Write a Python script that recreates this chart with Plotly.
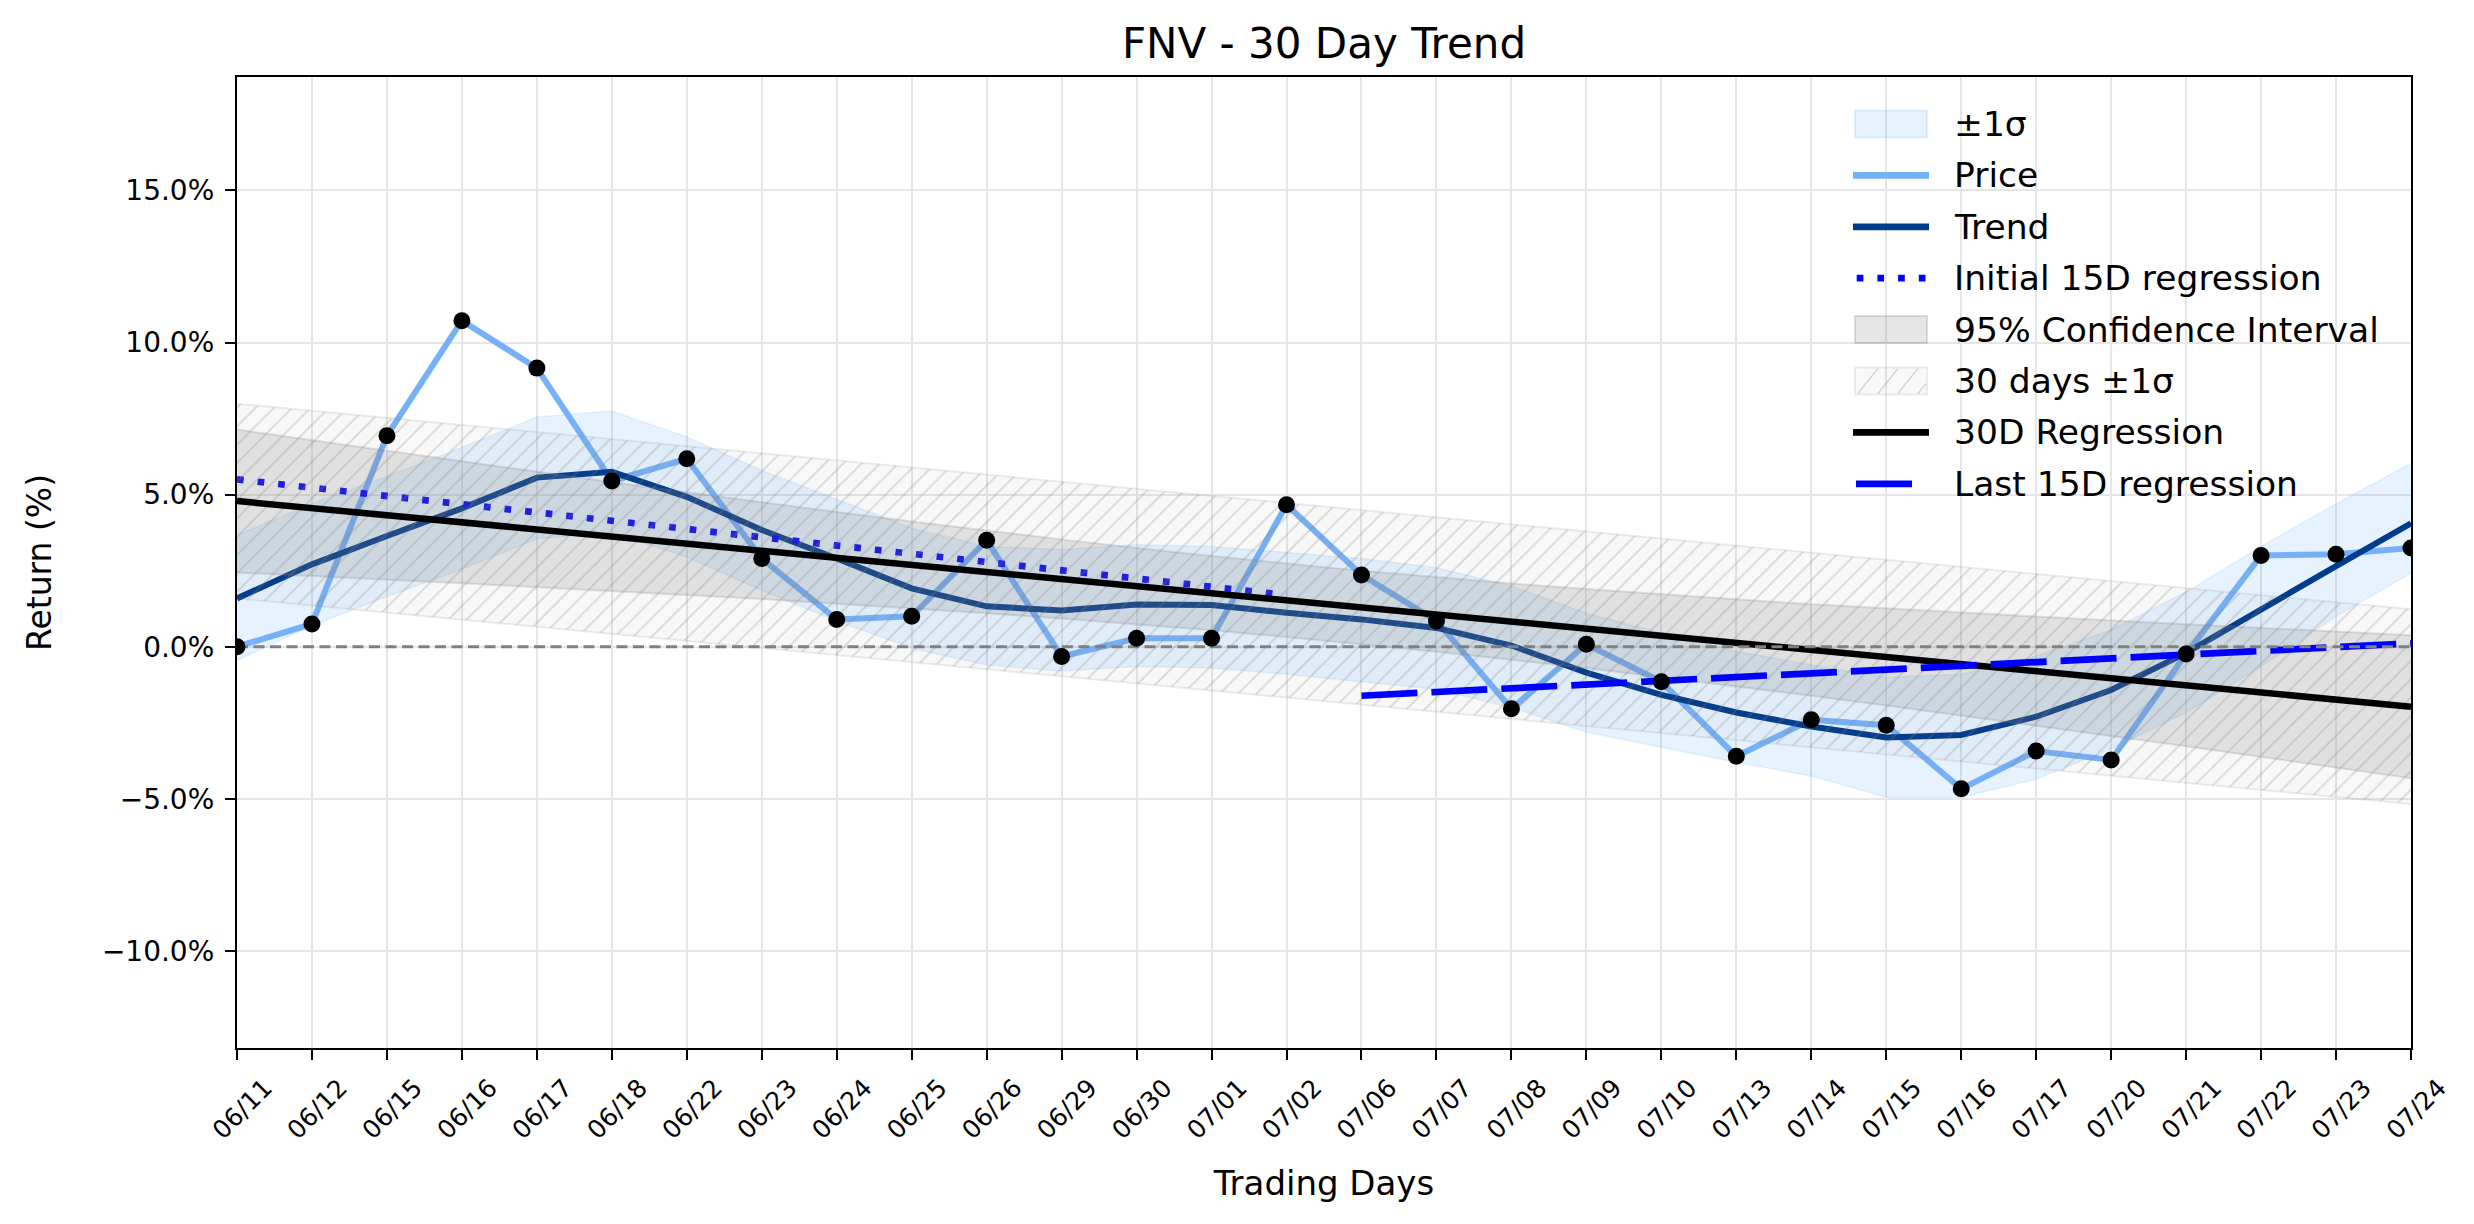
import plotly.graph_objects as go

# ---------------- data ----------------
dates = ['06/11', '06/12', '06/15', '06/16', '06/17', '06/18', '06/22', '06/23', '06/24', '06/25',
         '06/26', '06/29', '06/30', '07/01', '07/02', '07/06', '07/07', '07/08', '07/09', '07/10',
         '07/13', '07/14', '07/15', '07/16', '07/17', '07/20', '07/21', '07/22', '07/23', '07/24']

price = [0.00, 0.75, 6.94, 10.72, 9.16, 5.45, 6.18, 2.90, 0.90, 1.00,
         3.50, -0.32, 0.28, 0.28, 4.67, 2.36, 0.85, -2.04, 0.08, -1.15,
         -3.60, -2.40, -2.58, -4.67, -3.43, -3.72, -0.24, 3.00, 3.04, 3.25]

trend = [1.59, 2.71, 3.64, 4.55, 5.56, 5.75, 4.93, 3.84, 2.90, 1.92,
         1.33, 1.19, 1.39, 1.37, 1.12, 0.90, 0.62, 0.04, -0.85, -1.58,
         -2.16, -2.62, -2.98, -2.90, -2.30, -1.42, -0.20, 1.25, 2.65, 4.06]

sigma_upper = [3.67, 4.70, 5.60, 6.55, 7.55, 7.75, 6.90, 5.80, 4.85, 3.90,
               3.30, 3.20, 3.35, 3.30, 3.10, 2.90, 2.60, 2.00, 1.10, 0.45,
               -0.15, -0.60, -1.00, -0.90, -0.30, 0.55, 1.80, 3.30, 4.70, 6.03]
sigma_lower = [-0.45, 0.70, 1.65, 2.55, 3.55, 3.75, 2.95, 1.85, 0.85, -0.05,
               -0.60, -0.80, -0.65, -0.70, -0.90, -1.15, -1.40, -2.00, -2.80, -3.30,
               -3.80, -4.25, -4.95, -4.95, -4.35, -3.36, -2.16, -0.65, 1.00, 2.42]

ci_upper = [7.14, 6.79, 6.44, 6.09, 5.75, 5.41, 5.08, 4.75, 4.43, 4.12,
            3.82, 3.53, 3.25, 2.98, 2.74, 2.50, 2.29, 2.08, 1.90, 1.72,
            1.56, 1.40, 1.26, 1.12, 0.99, 0.86, 0.74, 0.62, 0.50, 0.38]
ci_lower = [2.44, 2.33, 2.21, 2.09, 1.96, 1.84, 1.70, 1.57, 1.42, 1.27,
            1.10, 0.93, 0.74, 0.54, 0.32, 0.09, -0.16, -0.43, -0.70, -1.00,
            -1.30, -1.61, -1.93, -2.26, -2.59, -2.93, -3.27, -3.62, -3.97, -4.32]

reg30_y = [4.79, -1.97]          # 30D regression, 06/11 -> 07/24
band30_upper = [7.99, 1.23]      # 30 days +1 sigma
band30_lower = [1.59, -5.17]     # 30 days -1 sigma
init15_y = [5.50, 1.70]          # initial 15D regression, 06/11 -> 07/02
last15_y = [-1.61, 0.11]         # last 15D regression, 07/06 -> 07/24

y_tickvals = [-10, -5, 0, 5, 10, 15]
y_ticktext = ['\u221210.0%', '\u22125.0%', '0.0%', '5.0%', '10.0%', '15.0%']

legend_labels = ['\u00b11\u03c3', 'Price', 'Trend', 'Initial 15D regression',
                 '95% Confidence Interval', '30 days \u00b11\u03c3', '30D Regression',
                 'Last 15D regression']

# ---------------- styles ----------------
FONT = 'DejaVu Sans'
C_PRICE = '#76b1f8'
C_TREND = '#003b8c'
C_BLUE = '#0000ff'
C_SIG_FILL = 'rgba(30,144,255,0.11)'
C_SIG_EDGE = 'rgba(30,144,255,0.10)'
C_CI_FILL = 'rgba(128,128,128,0.20)'
C_CI_EDGE = 'rgba(128,128,128,0.22)'
C_H_FILL = 'rgba(128,128,128,0.05)'
C_H_EDGE = 'rgba(128,128,128,0.14)'

W, H = 2474, 1224
PL, PR, PT, PB = 237, 2411, 77, 1048

def xp(px):
    return (px - PL) / (PR - PL)

def yp(py):
    return (PB - py) / (PB - PT)

first, last = dates[0], dates[-1]
fig = go.Figure()

# +-1 sigma band around trend
fig.add_trace(go.Scatter(x=dates, y=sigma_upper, mode='lines',
                         line=dict(color=C_SIG_EDGE, width=1.5), hoverinfo='skip', showlegend=False))
fig.add_trace(go.Scatter(x=dates, y=sigma_lower, mode='lines', fill='tonexty',
                         fillcolor=C_SIG_FILL, line=dict(color=C_SIG_EDGE, width=1.5),
                         hoverinfo='skip', showlegend=False))
# price line
fig.add_trace(go.Scatter(x=dates, y=price, mode='lines', line=dict(color=C_PRICE, width=6),
                         name='Price', showlegend=False))
# trend
fig.add_trace(go.Scatter(x=dates, y=trend, mode='lines', line=dict(color=C_TREND, width=6),
                         name='Trend', showlegend=False))
# initial 15D regression
fig.add_trace(go.Scatter(x=[dates[0], dates[14]], y=init15_y, mode='lines',
                         line=dict(color=C_BLUE, width=6.7, dash='6.7px,14px'),
                         name='Initial 15D regression', showlegend=False))
# 95% CI
fig.add_trace(go.Scatter(x=dates, y=ci_upper, mode='lines',
                         line=dict(color=C_CI_EDGE, width=2), hoverinfo='skip', showlegend=False))
fig.add_trace(go.Scatter(x=dates, y=ci_lower, mode='lines', fill='tonexty',
                         fillcolor=C_CI_FILL, line=dict(color=C_CI_EDGE, width=2),
                         hoverinfo='skip', showlegend=False))
# 30 days +-1 sigma hatched band
fig.add_trace(go.Scatter(x=[first, last], y=band30_upper, mode='lines',
                         line=dict(color=C_H_EDGE, width=2), hoverinfo='skip', showlegend=False))
fig.add_trace(go.Scatter(x=[first, last], y=band30_lower, mode='lines', fill='tonexty',
                         fillcolor=C_H_FILL,
                         fillpattern=dict(shape='/', size=13, solidity=0.14, fgcolor='#808080',
                                          fgopacity=0.28, fillmode='overlay'),
                         line=dict(color=C_H_EDGE, width=2), hoverinfo='skip', showlegend=False))
# 30D regression
fig.add_trace(go.Scatter(x=[first, last], y=reg30_y, mode='lines',
                         line=dict(color='black', width=6.5), name='30D Regression', showlegend=False))
# last 15D regression
fig.add_trace(go.Scatter(x=[dates[15], dates[29]], y=last15_y, mode='lines',
                         line=dict(color=C_BLUE, width=6.7, dash='56px,14px'),
                         name='Last 15D regression', showlegend=False))
# zero line
fig.add_trace(go.Scatter(x=[first, last], y=[0, 0], mode='lines',
                         line=dict(color='#808080', width=2.8, dash='11px,5.5px'),
                         hoverinfo='skip', showlegend=False))
# price markers
fig.add_trace(go.Scatter(x=dates, y=price, mode='markers',
                         marker=dict(color='black', size=17, line=dict(width=0)),
                         showlegend=False))

# ---------------- manual legend (matplotlib style) ----------------
shapes = []
annotations = []
LX0, LX1 = 1853, 1929
TX = 1952
for k, lab in enumerate(legend_labels):
    cy = 124 + 51.4 * k
    annotations.append(dict(x=xp(TX), y=yp(cy), xref='paper', yref='paper', text=lab,
                            showarrow=False, xanchor='left', yanchor='middle',
                            font=dict(family=FONT, size=34.5, color='black')))
    if k in (0, 4, 5):
        fill = {0: C_SIG_FILL, 4: C_CI_FILL, 5: C_H_FILL}[k]
        edge = {0: 'rgba(30,144,255,0.12)', 4: 'rgba(128,128,128,0.25)', 5: 'rgba(128,128,128,0.14)'}[k]
        shapes.append(dict(type='rect', xref='paper', yref='paper',
                           x0=xp(1855), x1=xp(1927), y0=yp(cy + 13.5), y1=yp(cy - 13.5),
                           fillcolor=fill, line=dict(color=edge, width=2), layer='above'))
        if k == 5:
            for sx in (1858, 1878, 1898):
                shapes.append(dict(type='line', xref='paper', yref='paper',
                                   x0=xp(sx), y0=yp(cy + 12.5), x1=xp(sx + 20), y1=yp(cy - 12.5),
                                   line=dict(color='rgba(128,128,128,0.28)', width=1.6), layer='above'))
            shapes.append(dict(type='line', xref='paper', yref='paper',
                               x0=xp(1918), y0=yp(cy + 12.5), x1=xp(1926), y1=yp(cy + 2.5),
                               line=dict(color='rgba(128,128,128,0.28)', width=1.6), layer='above'))
    else:
        style = {1: (C_PRICE, 'solid', LX0, LX1), 2: (C_TREND, 'solid', LX0, LX1),
                 3: (C_BLUE, '6.7px,14px', 1856.7, 1926), 6: ('black', 'solid', LX0, LX1),
                 7: (C_BLUE, 'solid', 1856, 1912)}[k]
        shapes.append(dict(type='line', xref='paper', yref='paper',
                           x0=xp(style[2]), x1=xp(style[3]), y0=yp(cy), y1=yp(cy),
                           line=dict(color=style[0], width=6.7, dash=style[1]), layer='above'))

fig.update_layout(
    width=W, height=H,
    margin=dict(l=PL, r=W - PR, t=PT, b=H - PB, autoexpand=False),
    paper_bgcolor='white', plot_bgcolor='white',
    font=dict(family=FONT, color='black'),
    title=dict(text='FNV - 30 Day Trend', x=(PL + PR) / 2 / W,
               xref='container', xanchor='center', y=1 - 43 / H, yref='container',
               yanchor='middle', font=dict(family=FONT, size=42, color='black')),
    showlegend=False,
    shapes=shapes,
    annotations=annotations,
    xaxis=dict(type='category', categoryorder='array', categoryarray=dates,
               range=[0, len(dates) - 1], showgrid=True, gridcolor='#e6e6e6', gridwidth=2,
               showline=True, linecolor='black', linewidth=2.2, mirror=True,
               ticks='outside', ticklen=10, tickwidth=2.2, tickcolor='black',
               tickangle=-45, tickfont=dict(family=FONT, size=25, color='black'),
               ticklabelshift=28, ticklabelstandoff=3,
               title=dict(text='Trading Days', font=dict(family=FONT, size=34, color='black'),
                          standoff=28),
               zeroline=False, automargin=False),
    yaxis=dict(range=[-13.19, 18.73], tickvals=y_tickvals, ticktext=y_ticktext,
               showgrid=True, gridcolor='#e6e6e6', gridwidth=2,
               showline=True, linecolor='black', linewidth=2.2, mirror=True,
               ticks='outside', ticklen=10, tickwidth=2.2, tickcolor='black',
               tickfont=dict(family=FONT, size=28, color='black'), ticklabelstandoff=5,
               title=dict(text='Return (%)', font=dict(family=FONT, size=33, color='black'),
                          standoff=40),
               zeroline=False, automargin=False),
)

fig.write_html('out.html')
